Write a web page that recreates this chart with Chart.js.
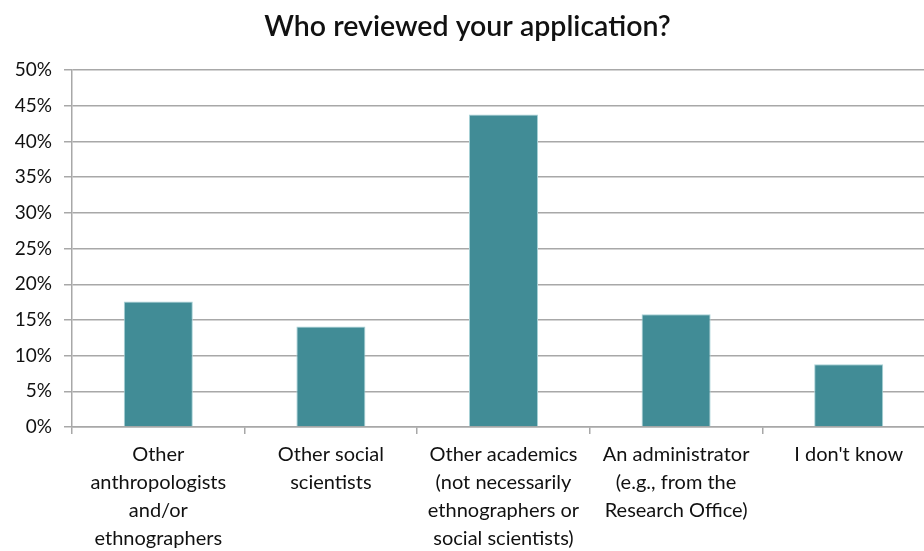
<!DOCTYPE html>
<html>
<head>
<meta charset="utf-8">
<script src="https://cdn.jsdelivr.net/npm/chart.js@4.4.1/dist/chart.umd.min.js"></script>
<style>
  html, body { margin: 0; padding: 0; background: #fff; overflow: hidden; }
  #wrap { width: 940px; height: 551px; }
</style>
</head>
<body>
<div id="wrap"><canvas id="chart" width="940" height="551"></canvas></div>
<script>
// data
const categories = [
  ['Other', 'anthropologists', 'and/or', 'ethnographers'],
  ['Other social', 'scientists'],
  ['Other academics', '(not necessarily', 'ethnographers or', 'social scientists)'],
  ['An administrator', '(e.g., from the', 'Research Office)'],
  ["I don't know"],
];
const shares = [17.6, 14.1, 43.8, 15.8, 8.8];
const yTicks = [0, 5, 10, 15, 20, 25, 30, 35, 40, 45, 50];

const family = 'Lato, "Open Sans", sans-serif';

const ctx = document.getElementById('chart').getContext('2d');
new Chart(ctx, {
  type: 'bar',
  data: {
    labels: categories,
    datasets: [{
      data: shares,
      backgroundColor: '#418c96',
      borderColor: '#a9d2d7',
      borderWidth: 1,
      barPercentage: 0.4,
      categoryPercentage: 1,
    }],
  },
  options: {
    responsive: false,
    animation: false,
    layout: { padding: { top: 0, right: 5, left: 0, bottom: 0 } },
    plugins: {
      legend: { display: false },
      tooltip: { enabled: false },
      title: {
        display: true,
        text: 'Who reviewed your application?',
        color: '#111',
        font: { family: family, size: 28.5, weight: '600', lineHeight: 1.2 },
        padding: { top: 10, bottom: 26 },
      },
    },
    scales: {
      x: {
        grid: {
          drawOnChartArea: false,
          drawTicks: true,
          tickLength: 7,
          color: '#a8a8a8',
          lineWidth: 1.5,
        },
        border: { color: '#a8a8a8', width: 1.5 },
        ticks: {
          color: '#111',
          font: { family: family, size: 20, lineHeight: 1.4 },
          maxRotation: 0,
          autoSkip: false,
          padding: 7,
        },
        afterFit: (s) => { s.height = 124; },
      },
      y: {
        min: 0,
        max: 50,
        afterBuildTicks: (s) => { s.ticks = yTicks.map(v => ({ value: v })); },
        grid: {
          color: '#a8a8a8',
          lineWidth: 1.5,
          tickLength: 8,
        },
        border: { color: '#a8a8a8', width: 1.5 },
        ticks: {
          color: '#111',
          font: { family: family, size: 19 },
          padding: 12,
          callback: (v) => v + '%',
        },
        afterFit: (s) => { s.width = 72; },
      },
    },
  },
});
</script>
</body>
</html>
